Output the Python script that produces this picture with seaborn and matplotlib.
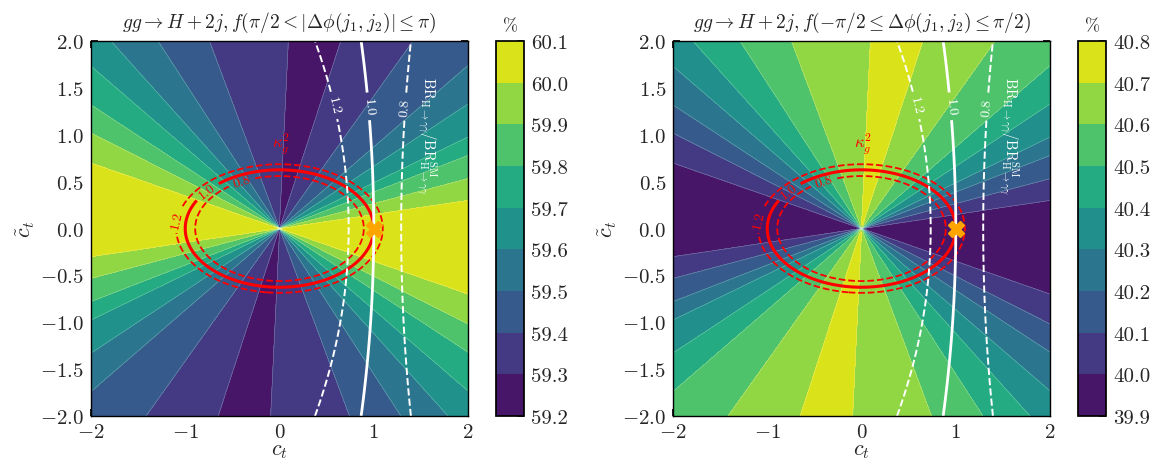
import numpy as np
import matplotlib
matplotlib.use("Agg")
import matplotlib.pyplot as plt
import seaborn as sns

# angular profile of the fraction, angle = atan2(ct~, ct) in degrees
left_angle = [-69.6, -57.2, -48.2, -40.9, -33.4, -27.0, -19.3, -5.5, 8.6, 14.9,
              21.3, 26.0, 33.6, 41.0, 54.7, 72.0, 79.6, 87.3]
left_frac = [59.40, 59.50, 59.60, 59.70, 59.80, 59.90, 60.00, 60.08, 60.00, 59.90,
             59.80, 59.70, 59.60, 59.50, 59.40, 59.30, 59.24, 59.30]
right_angle = left_angle
right_frac = [40.60, 40.50, 40.40, 40.30, 40.20, 40.10, 40.00, 39.92, 40.00, 40.10,
              40.20, 40.30, 40.40, 40.50, 40.60, 40.70, 40.76, 40.70]

left_levels = [59.2, 59.3, 59.4, 59.5, 59.6, 59.7, 59.8, 59.9, 60.0, 60.1]
right_levels = [39.9, 40.0, 40.1, 40.2, 40.3, 40.4, 40.5, 40.6, 40.7, 40.8]

titles = [r"$gg \to H+2j, f(\pi/2 < |\Delta\phi(j_1,j_2)| \leq \pi)$",
          r"$gg \to H+2j, f(-\pi/2 \leq \Delta\phi(j_1,j_2) \leq \pi/2)$"]

# coupling model constants
kg_odd = 2.55          # kappa_g^2 = ct^2 + kg_odd * ct~^2
a_w, b_t, c_t_odd = 1.28, 0.28, 0.43
w_gg = 0.082
kappa_levels = [0.8, 1.0, 1.2]
br_levels = [0.8, 1.0, 1.2]

sns.set_theme(style="ticks")
plt.rcParams["font.family"] = ["cmr10", "DejaVu Serif"]
plt.rcParams["mathtext.fontset"] = "cm"
plt.rcParams["axes.formatter.use_mathtext"] = True
plt.rcParams["axes.unicode_minus"] = True

x = np.linspace(-2, 2, 401)
X, Y = np.meshgrid(x, x)
theta = np.degrees(np.arctan2(Y, X))
kg2 = X**2 + kg_odd * Y**2
br = ((a_w - b_t * X)**2 + (c_t_odd * Y)**2) / (1 + w_gg * (kg2 - 1))

fig = plt.figure(figsize=(11.53, 4.64), dpi=100)
ax_pos = [[0.0789, 0.1013, 0.327, 0.808], [0.5837, 0.1013, 0.327, 0.808]]
cb_pos = [[0.4302, 0.1013, 0.0243, 0.808], [0.935, 0.1013, 0.0243, 0.808]]

panels = [(left_angle, left_frac, left_levels), (right_angle, right_frac, right_levels)]
for i, (ang, frac, levels) in enumerate(panels):
    ax = fig.add_axes(ax_pos[i])
    Z = np.interp(theta, ang, frac, period=180)
    cf = ax.contourf(X, Y, Z, levels=levels, cmap="viridis")
    ax.contour(X, Y, Z, levels=levels, colors="white", linewidths=0.4, alpha=0.35)

    # kappa_g^2 ellipses
    ck = ax.contour(X, Y, kg2, levels=kappa_levels, colors="red",
                    linestyles=["--", "-", "--"], linewidths=[1.3, 2.2, 1.3])
    ax.clabel(ck, fmt="%.1f", fontsize=10, inline=True,
              manual=[(-0.40, 0.50), (-0.77, 0.40), (-1.08, 0.1)])
    ax.text(0.02, 0.78, r"$\kappa_g^2$", color="red", fontsize=12, ha="center", va="bottom")

    # BR(H->gamma gamma) ratio
    cb = ax.contour(X, Y, br, levels=br_levels, colors="white",
                    linestyles=["--", "-", "--"], linewidths=[1.4, 2.0, 1.4])
    ax.clabel(cb, fmt="%.1f", fontsize=10, inline=True,
              manual=[(1.37, 1.3), (0.9, 1.3), (0.52, 1.3)])
    ax.text(1.56, 1.0, r"$\mathrm{BR}_{\mathrm{H}\to\gamma\gamma}/\mathrm{BR}^{\mathrm{SM}}_{\mathrm{H}\to\gamma\gamma}$",
            color="white", fontsize=10.5, rotation=-90, ha="center", va="center")

    ax.plot([1.0], [0.0], marker="X", color="orange", markersize=12, linestyle="none")

    ax.set_xlim(-2, 2)
    ax.set_ylim(-2, 2)
    ax.set_xticks([-2, -1, 0, 1, 2])
    ax.set_yticks(np.arange(-2, 2.01, 0.5))
    ax.tick_params(direction="in", top=True, right=True, labelsize=15, length=5,
                   color="black", pad=5)
    ax.set_xlabel(r"$c_t$", fontsize=16, labelpad=0)
    ax.set_ylabel(r"$\tilde{c}_t$", fontsize=16, labelpad=2)
    ax.set_title(titles[i], fontsize=14, pad=10)
    for s in ax.spines.values():
        s.set_color("black")
        s.set_linewidth(1.0)

    cax = fig.add_axes(cb_pos[i])
    cbar = fig.colorbar(cf, cax=cax, ticks=levels)
    cbar.ax.set_yticklabels([f"{v:.1f}" for v in levels])
    cbar.ax.tick_params(direction="in", labelsize=15, length=5, pad=5)
    cbar.outline.set_edgecolor("black")
    cbar.ax.set_title(r"$\%$", fontsize=13, pad=8)

fig.savefig("out.png", dpi=100)
